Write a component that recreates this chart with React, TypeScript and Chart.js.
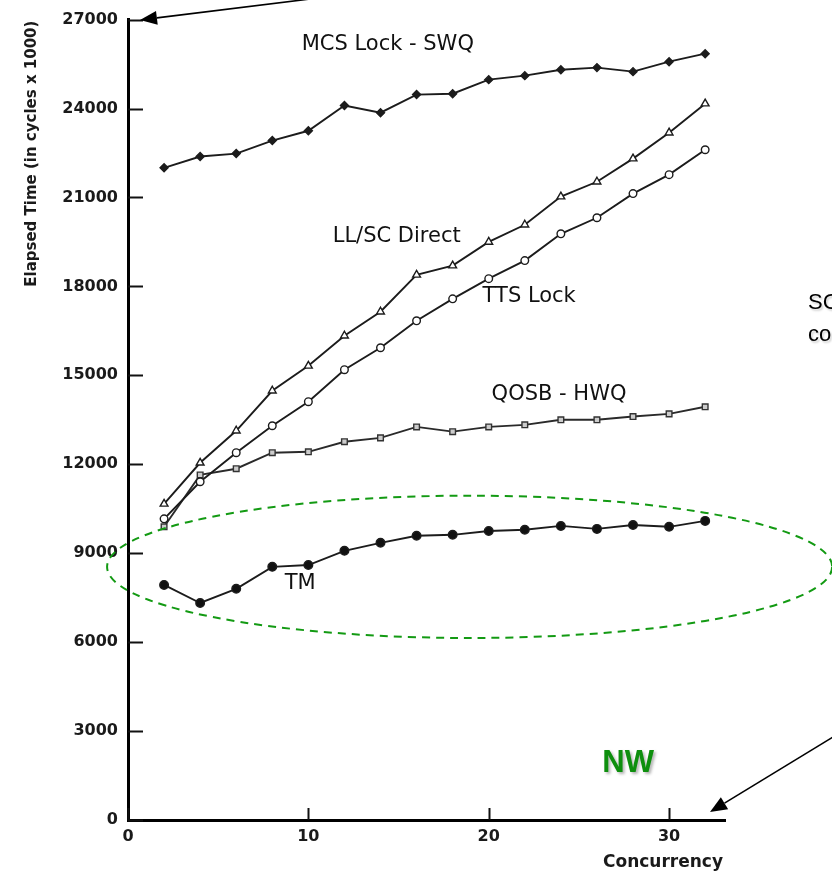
import React, { useEffect, useRef } from 'react';
import { Chart, registerables } from 'chart.js';

Chart.register(...registerables);

// ---- data ----
const concurrency = [2, 4, 6, 8, 10, 12, 14, 16, 18, 20, 22, 24, 26, 28, 30, 32];
const mcsLockSwq = [22000, 22380, 22480, 22920, 23250, 24100, 23860, 24470, 24500, 24975, 25110, 25310, 25380, 25245, 25580, 25850];
const llscDirect = [10665, 12050, 13130, 14480, 15320, 16335, 17145, 18390, 18700, 19500, 20080, 21030, 21530, 22310, 23185, 24165];
const ttsLock = [10160, 11410, 12390, 13300, 14110, 15190, 15930, 16840, 17580, 18260, 18870, 19775, 20315, 21130, 21770, 22610];
const qosbHwq = [9890, 11640, 11850, 12390, 12420, 12760, 12890, 13260, 13100, 13260, 13330, 13500, 13500, 13610, 13700, 13940];
const tm = [7930, 7320, 7800, 8540, 8600, 9080, 9350, 9590, 9620, 9750, 9790, 9920, 9820, 9950, 9890, 10090];

const xTickValues = [0, 10, 20, 30];
const yTickValues = [0, 3000, 6000, 9000, 12000, 15000, 18000, 21000, 24000, 27000];

const xAxisTitle = 'Concurrency';
const yAxisTitle = 'Elapsed Time (in cycles x 1000)';

// series labels: [text, x value, y value]
const seriesLabels: [string, number, number][] = [
  ['MCS Lock - SWQ', 9.63, 26156],
  ['LL/SC Direct', 11.35, 19676],
  ['TTS Lock', 19.66, 17651],
  ['QOSB - HWQ', 20.16, 14344],
  ['TM', 8.69, 7965],
];

const toPts = (ys: number[]) => concurrency.map((c, i) => ({ x: c, y: ys[i] }));

const annotationPlugin = {
  id: 'annotations',
  afterDraw(chart: any) {
    const { ctx, chartArea } = chart;
    const xs = chart.scales.x;
    const ys = chart.scales.y;
    const px = (v: number) => xs.getPixelForValue(v);
    const py = (v: number) => ys.getPixelForValue(v);

    ctx.save();
    // inward tick marks
    ctx.strokeStyle = '#111';
    ctx.lineWidth = 2;
    yTickValues.forEach((v) => {
      const y = Math.round(py(v)) + 0.5;
      ctx.beginPath();
      ctx.moveTo(chartArea.left, y);
      ctx.lineTo(chartArea.left + 15, y);
      ctx.stroke();
    });
    xTickValues.forEach((v) => {
      const x = Math.round(px(v)) + 0.5;
      ctx.beginPath();
      ctx.moveTo(x, chartArea.bottom);
      ctx.lineTo(x, chartArea.bottom - 12);
      ctx.stroke();
    });

    // axis titles
    ctx.fillStyle = '#1a1a1a';
    ctx.font = 'bold 17px "DejaVu Sans"';
    ctx.textAlign = 'right';
    ctx.textBaseline = 'middle';
    ctx.fillText(xAxisTitle, chartArea.right - 2, 863);

    ctx.save();
    ctx.translate(32, chartArea.top + 1);
    ctx.rotate(-Math.PI / 2);
    ctx.font = 'bold 15px "DejaVu Sans"';
    ctx.textAlign = 'right';
    ctx.textBaseline = 'middle';
    ctx.fillText(yAxisTitle, 0, 0);
    ctx.restore();

    // series labels
    ctx.font = '21px "DejaVu Sans"';
    ctx.fillStyle = '#111';
    ctx.textAlign = 'left';
    ctx.textBaseline = 'middle';
    seriesLabels.forEach(([t, x, y]) => ctx.fillText(t, px(x), py(y)));

    // dashed ellipse
    const cx = px(18.94);
    const cy = py(8540);
    const rx = px(18.94 + 20.1) - cx;
    const ry = py(8540 - 2400) - cy;
    ctx.strokeStyle = '#139a13';
    ctx.lineWidth = 2;
    ctx.setLineDash([8, 6]);
    ctx.beginPath();
    ctx.ellipse(cx, cy, rx, ry, 0, 0, Math.PI * 2);
    ctx.stroke();
    ctx.setLineDash([]);

    // NW label
    ctx.save();
    ctx.shadowColor = 'rgba(0,0,0,0.3)';
    ctx.shadowOffsetX = 2;
    ctx.shadowOffsetY = 2;
    ctx.shadowBlur = 3;
    ctx.font = 'bold 31px "Liberation Sans"';
    ctx.fillStyle = '#0e8f0e';
    ctx.textAlign = 'left';
    ctx.textBaseline = 'middle';
    ctx.fillText('NW', px(26.3), py(1924));

    // cut-off side text
    ctx.shadowColor = 'rgba(0,0,0,0.18)';
    ctx.shadowOffsetX = 1.5;
    ctx.shadowOffsetY = 1.5;
    ctx.shadowBlur = 2;
    ctx.font = '22px "Liberation Sans"';
    ctx.fillStyle = '#000';
    ctx.textBaseline = 'alphabetic';
    ctx.fillText('SC', 808, 309);
    ctx.fillText('co', 808, 341);
    ctx.restore();

    // arrows
    const arrow = (x1: number, y1: number, x2: number, y2: number) => {
      const ang = Math.atan2(y2 - y1, x2 - x1);
      const len = 17;
      const hw = 7;
      const bx = x2 - len * Math.cos(ang);
      const by = y2 - len * Math.sin(ang);
      ctx.strokeStyle = '#000';
      ctx.fillStyle = '#000';
      ctx.lineWidth = 1.6;
      ctx.beginPath();
      ctx.moveTo(x1, y1);
      ctx.lineTo(bx, by);
      ctx.stroke();
      ctx.beginPath();
      ctx.moveTo(x2, y2);
      ctx.lineTo(bx + hw * Math.sin(ang), by - hw * Math.cos(ang));
      ctx.lineTo(bx - hw * Math.sin(ang), by + hw * Math.cos(ang));
      ctx.closePath();
      ctx.fill();
    };
    arrow(310, -1, 140, 20);
    arrow(833, 737, 710, 812);

    ctx.restore();
  },
};

export default function App() {
  const ref = useRef<HTMLCanvasElement | null>(null);

  useEffect(() => {
    if (!ref.current) return;
    const lineColor = '#1c1c1c';
    const common = {
      borderColor: lineColor,
      borderWidth: 1.9,
      tension: 0,
      pointBorderColor: lineColor,
      pointBorderWidth: 1.4,
    };
    const chart = new Chart(ref.current, {
      type: 'line',
      data: {
        datasets: [
          { ...common, label: 'MCS Lock - SWQ', data: toPts(mcsLockSwq), pointStyle: 'rectRot', pointRadius: 4, pointBackgroundColor: '#1c1c1c' },
          { ...common, label: 'LL/SC Direct', data: toPts(llscDirect), pointStyle: 'triangle', pointRadius: 4.5, pointBackgroundColor: '#fff' },
          { ...common, label: 'TTS Lock', data: toPts(ttsLock), pointStyle: 'circle', pointRadius: 3.8, pointBackgroundColor: '#fff' },
          { ...common, label: 'QOSB - HWQ', data: toPts(qosbHwq), pointStyle: 'rect', pointRadius: 4, pointBackgroundColor: '#ccc', pointBorderColor: '#333', borderColor: '#2a2a2a' },
          { ...common, label: 'TM', data: toPts(tm), pointStyle: 'circle', pointRadius: 4.3, pointBackgroundColor: '#111' },
        ],
      },
      options: {
        animation: false,
        responsive: false,
        layout: { padding: { top: 19, right: 107, left: 0, bottom: 0 } },
        plugins: { legend: { display: false }, tooltip: { enabled: false }, title: { display: false } },
        scales: {
          x: {
            type: 'linear',
            min: 0,
            max: 33.1,
            afterBuildTicks: (s: any) => {
              s.ticks = xTickValues.map((v) => ({ value: v }));
            },
            afterFit: (s: any) => {
              s.height = 52;
            },
            grid: { display: true, drawOnChartArea: false, drawTicks: false },
            border: { display: true, width: 3, color: '#000' },
            ticks: {
              color: '#1a1a1a',
              font: { family: 'DejaVu Sans', size: 16, weight: 'bold' },
              padding: 7,
              maxRotation: 0,
              autoSkip: false,
            },
          },
          y: {
            type: 'linear',
            min: 0,
            max: 27000,
            afterBuildTicks: (s: any) => {
              s.ticks = yTickValues.map((v) => ({ value: v }));
            },
            afterFit: (s: any) => {
              s.width = 128;
            },
            grid: { display: true, drawOnChartArea: false, drawTicks: false },
            border: { display: true, width: 3, color: '#000' },
            ticks: {
              color: '#1a1a1a',
              font: { family: 'DejaVu Sans', size: 16, weight: 'bold' },
              padding: 10,
              autoSkip: false,
              callback: (v: any) => String(v),
            },
          },
        },
      },
      plugins: [annotationPlugin],
    } as any);
    return () => chart.destroy();
  }, []);

  return (
    <div style={{ position: 'absolute', left: 0, top: 0, width: 832, height: 872, background: '#fff' }}>
      <canvas ref={ref} width={832} height={872} style={{ display: 'block', width: 832, height: 872 }} />
    </div>
  );
}
